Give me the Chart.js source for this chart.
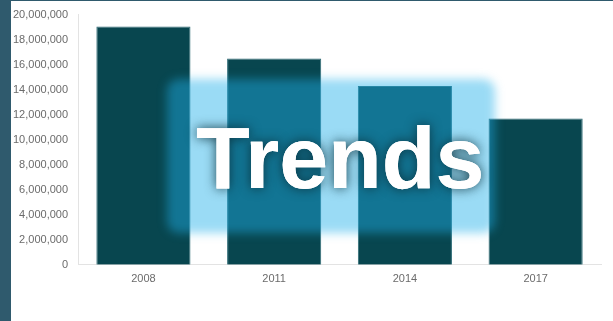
<!DOCTYPE html>
<html>
<head>
<meta charset="utf-8">
<script src="https://cdn.jsdelivr.net/npm/chart.js@4"></script>
<style>
  html, body { margin: 0; padding: 0; background: #fff; }
  body { width: 613px; height: 321px; position: relative; overflow: hidden; }
  #strip { position: absolute; left: 0; top: 0; width: 11px; height: 321px; background: #2f5a6d; z-index: 2; }
  #topline { position: absolute; left: 0; top: 0; width: 613px; height: 1px; background: #2f5a6d; z-index: 2; }
  #wrap { position: absolute; left: 11px; top: -2px; width: 602px; height: 323px; }
</style>
</head>
<body>
<div id="wrap"><canvas id="myChart"></canvas></div>
<div id="strip"></div>
<div id="topline"></div>
<script>
  // chart data
  var years = ["2008", "2011", "2014", "2017"];
  var totals = [19050000, 16500000, 14300000, 11700000];
  var yTicks = [0, 2000000, 4000000, 6000000, 8000000, 10000000, 12000000, 14000000, 16000000, 18000000, 20000000];

  // "Trends" banner drawn over the chart
  var trendsBanner = {
    id: 'trendsBanner',
    afterDraw: function(chart) {
      var ctx = chart.ctx;
      ctx.save();
      ctx.filter = 'blur(5px)';
      ctx.fillStyle = 'rgba(32,175,232,0.45)';
      ctx.beginPath();
      ctx.roundRect(156, 81, 328, 154, 12);
      ctx.fill();
      ctx.restore();

      ctx.save();
      ctx.font = 'bold 88px "Liberation Sans", Arial, sans-serif';
      ctx.textBaseline = 'alphabetic';
      ctx.textAlign = 'left';
      ctx.shadowColor = 'rgba(10,45,55,0.9)';
      ctx.shadowBlur = 12;
      ctx.fillStyle = '#ffffff';
      ctx.fillText('Trends', 185, 190);
      ctx.shadowBlur = 0;
      ctx.fillText('Trends', 185, 190);
      ctx.restore();
    }
  };

  var ctx = document.getElementById("myChart");
  var myChart = new Chart(ctx, {
    type: 'bar',
    data: {
      labels: years,
      datasets: [{
        data: totals,
        backgroundColor: '#08464f',
        borderColor: '#2c6a74',
        borderWidth: 1,
        barPercentage: 0.72,
        categoryPercentage: 1
      }]
    },
    options: {
      responsive: true,
      maintainAspectRatio: false,
      animation: false,
      layout: { padding: { left: -8, top: 2, right: 12, bottom: 27 } },
      plugins: { legend: { display: false }, tooltip: { enabled: false } },
      scales: {
        x: {
          grid: { display: false, drawTicks: false },
          border: { display: true, color: '#e3e3e3' },
          ticks: { color: '#6b6b6b', padding: 8, font: { family: '"Liberation Sans", Arial', size: 11 } }
        },
        y: {
          min: 0,
          max: 20000000,
          afterBuildTicks: function(axis) {
            axis.ticks = yTicks.map(function(v) { return { value: v }; });
          },
          grid: { display: false, drawTicks: false },
          border: { display: true, color: '#e3e3e3' },
          ticks: {
            color: '#6b6b6b',
            padding: 10,
            font: { family: '"Liberation Sans", Arial', size: 11 },
            callback: function(v) { return v.toLocaleString('en-US'); }
          }
        }
      }
    },
    plugins: [trendsBanner]
  });
</script>
</body>
</html>
